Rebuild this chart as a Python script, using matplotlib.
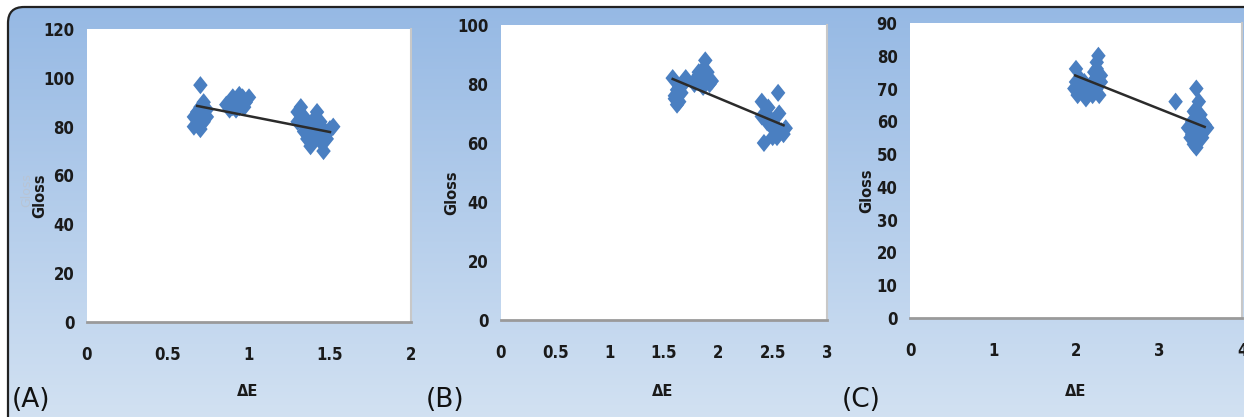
import numpy as np
import matplotlib
matplotlib.use("Agg")
import matplotlib.pyplot as plt
from matplotlib.path import Path
from matplotlib.patches import FancyBboxPatch

# ---------------- data ----------------
a_x = [0.70, 0.72, 0.70, 0.68, 0.72, 0.66, 0.70, 0.74, 0.68, 0.66, 0.72, 0.70, 0.74, 0.68,
       0.88, 0.90, 0.92, 0.94, 0.96, 0.98, 1.00, 0.92, 0.86, 0.97, 0.90, 0.94,
       1.30, 1.32, 1.34, 1.36, 1.38, 1.30, 1.34, 1.36, 1.40, 1.38, 1.42, 1.44, 1.46, 1.48,
       1.50, 1.44, 1.46, 1.42, 1.40, 1.48, 1.52, 1.35]
a_y = [97, 90, 88, 86, 85, 84, 83, 84, 81, 80, 82, 79, 87, 84,
       87, 92, 90, 88, 92, 90, 92, 87, 89, 88, 88, 93,
       86, 88, 84, 82, 80, 82, 78, 75, 76, 72, 86, 82, 79, 77,
       79, 74, 70, 78, 83, 75, 80, 80]
a_trend_x = [0.68, 1.50]
a_trend_y = [88.5, 77.8]

b_x = [1.58, 1.62, 1.60, 1.64, 1.68, 1.70, 1.62, 1.66, 1.60, 1.64,
       1.78, 1.82, 1.86, 1.88, 1.80, 1.84, 1.90, 1.86, 1.92, 1.82, 1.88, 1.94,
       2.40, 2.44, 2.48, 2.52, 2.55, 2.42, 2.46, 2.50, 2.54, 2.58, 2.60, 2.45, 2.40, 2.56, 2.62, 2.50]
b_y = [82, 78, 76, 74, 80, 82, 73, 77, 75, 79,
       80, 83, 85, 88, 82, 81, 84, 79, 80, 84, 82, 81,
       74, 70, 68, 66, 77, 60, 72, 65, 62, 64, 63, 67, 69, 70, 65, 62]
b_trend_x = [1.58, 2.60]
b_trend_y = [81.7, 66.0]

c_x = [2.00, 2.05, 1.98, 2.02, 2.10, 2.08, 2.15, 2.20, 2.25, 2.27, 2.22, 2.30, 2.25, 2.28,
       2.20, 2.12, 2.30, 2.00, 2.25,
       3.20, 3.45, 3.48, 3.42, 3.40, 3.50, 3.55, 3.45, 3.38, 3.42, 3.45, 3.40, 3.50, 3.58,
       3.52, 3.35]
c_y = [76, 73, 70, 68, 72, 69, 70, 72, 78, 80, 75, 74, 70, 68,
       68, 67, 72, 72, 76,
       66, 70, 66, 63, 60, 62, 59, 58, 55, 53, 52, 56, 57, 58,
       55, 58]
c_trend_x = [1.99, 3.55]
c_trend_y = [74.0, 58.3]

panels = [
    dict(x=a_x, y=a_y, tx=a_trend_x, ty=a_trend_y, xlim=(0, 2), xt=[0, 0.5, 1, 1.5, 2],
         xtl=["0", "0.5", "1", "1.5", "2"], ylim=(0, 120), yt=list(range(0, 121, 20)),
         rect=(87, 29, 411, 322), letter="(A)", lx=12, gx=40, ex=248),
    dict(x=b_x, y=b_y, tx=b_trend_x, ty=b_trend_y, xlim=(0, 3), xt=[0, 0.5, 1, 1.5, 2, 2.5, 3],
         xtl=["0", "0.5", "1", "1.5", "2", "2.5", "3"], ylim=(0, 100), yt=list(range(0, 101, 20)),
         rect=(501, 25, 827, 320), letter="(B)", lx=426, gx=452, ex=663),
    dict(x=c_x, y=c_y, tx=c_trend_x, ty=c_trend_y, xlim=(0, 4), xt=[0, 1, 2, 3, 4],
         xtl=["0", "1", "2", "3", "4"], ylim=(0, 90), yt=list(range(0, 91, 10)),
         rect=(910, 23, 1242, 318), letter="(C)", lx=842, gx=867, ex=1076),
]

W, H = 1244, 417
fig = plt.figure(figsize=(W / 100, H / 100), dpi=100)
fig.patch.set_facecolor("white")

# background gradient
bg = fig.add_axes([0, 0, 1, 1])
bg.set_xlim(0, W)
bg.set_ylim(H, 0)
bg.axis("off")
top = np.array([150, 185, 228]) / 255
bot = np.array([214, 228, 243]) / 255
t = np.linspace(0, 1, 256)[:, None]
grad = (top[None, :] * (1 - t) + bot[None, :] * t)[:, None, :]
grad = np.repeat(grad, 4, axis=1)
bg.imshow(grad, extent=[8, W + 30, H + 30, 7], aspect="auto", zorder=0)
frame = FancyBboxPatch((8, 7), W + 60, H + 60, boxstyle="round,pad=0,rounding_size=16",
                       facecolor="none", edgecolor="#222222", lw=1.6, zorder=2)
bg.add_patch(frame)
clip = FancyBboxPatch((8, 7), W + 60, H + 60, boxstyle="round,pad=0,rounding_size=16",
                      transform=bg.transData)
for im in bg.images:
    im.set_clip_path(clip)

diamond = Path([(0, 1), (0.8, 0), (0, -1), (-0.8, 0), (0, 1)],
               [Path.MOVETO, Path.LINETO, Path.LINETO, Path.LINETO, Path.CLOSEPOLY])

for p in panels:
    x0, y0, x1, y1 = p["rect"]
    ax = fig.add_axes([x0 / W, 1 - y1 / H, (x1 - x0) / W, (y1 - y0) / H])
    ax.set_facecolor("white")
    ax.set_xlim(*p["xlim"])
    ax.set_ylim(*p["ylim"])
    ax.scatter(p["x"], p["y"], marker=diamond, s=170, color="#4a7fc1", edgecolors="none",
               zorder=3, clip_on=False)
    ax.plot(p["tx"], p["ty"], color="#2b2b2b", lw=1.8, zorder=4)
    ax.set_xticks(p["xt"])
    ax.set_xticklabels(p["xtl"])
    ax.set_yticks(p["yt"])
    ax.tick_params(length=0, labelsize=12, colors="#1a1a1a")
    ax.tick_params(axis="x", pad=17)
    ax.tick_params(axis="y", pad=9)
    for lab in ax.get_xticklabels() + ax.get_yticklabels():
        lab.set_fontfamily("DejaVu Sans")
        lab.set_fontstretch("condensed")
        lab.set_fontweight("bold")
    for s in ["top", "left"]:
        ax.spines[s].set_visible(False)
    ax.spines["bottom"].set_color("#9a9a9a")
    ax.spines["bottom"].set_linewidth(2)
    ax.spines["right"].set_color("#c8c8c8")
    ax.spines["right"].set_linewidth(1.5)

    yc = (y0 + y1) / 2 + 20
    fig.text(p["gx"] / W, 1 - yc / H, "Gloss", rotation=90, ha="center", va="center",
             fontsize=10.5, fontweight="bold", color="#1a1a1a", family="DejaVu Sans")
    fig.text(p["ex"] / W, 1 - 392 / H, "ΔE", ha="center", va="center",
             fontsize=10.5, fontweight="bold", color="#1a1a1a", family="DejaVu Sans")
    fig.text(p["lx"] / W, 1 - 400 / H, p["letter"], ha="left", va="center",
             fontsize=19, color="#111111", family="DejaVu Sans")

# faint ghost label in panel A
fig.text(27 / W, 1 - 190 / H, "Gloss", rotation=90, ha="center", va="center",
         fontsize=9, color="#b8c4d4", family="DejaVu Sans", zorder=0)

fig.savefig("out.png", dpi=100, facecolor="white")
